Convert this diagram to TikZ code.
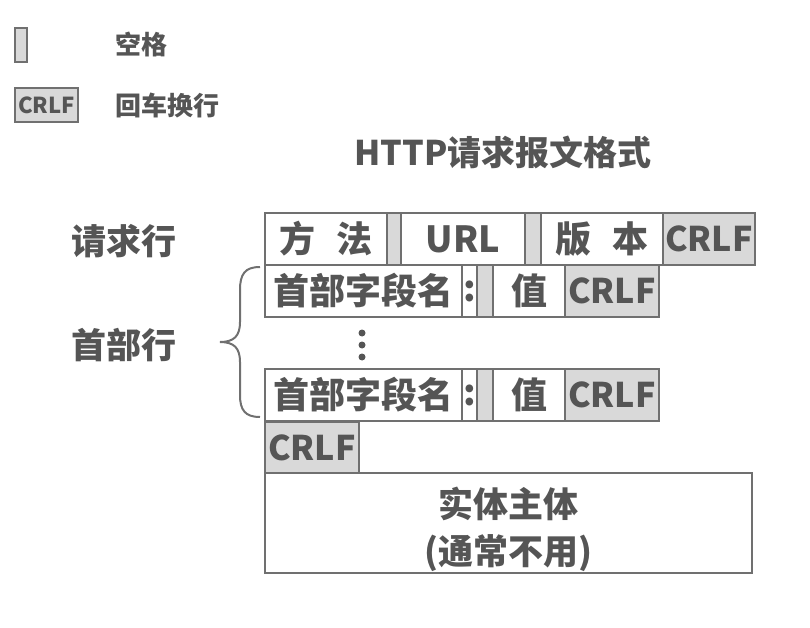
\documentclass[tikz,border=0pt]{standalone}
\usepackage{fontspec}
\setmainfont{Noto Sans CJK SC}
\definecolor{txtgray}{HTML}{555555}
\definecolor{linegray}{HTML}{707070}
\definecolor{spgray}{HTML}{D9D9D9}
\tikzset{
  cell/.style={draw=linegray, fill=white, anchor=north west, minimum height=52pt,
    inner sep=0pt, outer sep=0pt, text=txtgray, font=\fontsize{36}{40}\selectfont\bfseries},
  sp/.style={cell, fill=spgray, font=\fontsize{34}{40}\selectfont\bfseries},
  lbl/.style={text=txtgray, inner sep=0pt, font=\fontsize{35}{40}\selectfont\bfseries}
}
\begin{document}
\begin{tikzpicture}[x=1pt, y=-1pt, line width=1.6pt]
    \useasboundingbox (0,0) rectangle (810,628);
    % legend
    \node[sp, minimum width=12pt, minimum height=34pt] (legsp) at (15,28) {};
    \node[lbl, font=\fontsize{26}{30}\selectfont\bfseries] (legsptxt) at (141,44) {空格};
    \node[sp, minimum width=63pt, minimum height=34pt, font=\fontsize{22}{26}\selectfont\bfseries] (legcrlf) at (15,88) {CRLF};
    \node[lbl, font=\fontsize{26}{30}\selectfont\bfseries] (legcrlftxt) at (167,105) {回车换行};
    \node[lbl, font=\fontsize{34}{40}\selectfont\bfseries] (title) at (503,152) {HTTP请求报文格式};
    % request line
    \node[lbl] (qingqiu) at (124,241) {请求行};
    \node[cell, minimum width=122pt] (fangfa) at (265,213) {方\hspace{0.6em}法};
    \node[sp, minimum width=14pt] (sp1) at (387,213) {};
    \node[cell, minimum width=124pt] (url) at (401,213) {URL};
    \node[sp, minimum width=16pt] (sp2) at (525,213) {};
    \node[cell, minimum width=122pt] (banben) at (541,213) {版\hspace{0.6em}本};
    \node[sp, minimum width=92pt] (crlf1) at (663,213) {CRLF};
    % header lines
    \node[lbl] (shoubu) at (124,345) {首部行};
    \node[cell, minimum width=197pt] (name1) at (265,265) {首部字段名};
    \node[cell, minimum width=15pt] (colon1) at (462,265) {:};
    \node[sp, minimum width=16pt] (sp3) at (477,265) {};
    \node[cell, minimum width=72pt] (zhi1) at (493,265) {值};
    \node[sp, minimum width=94pt] (crlf2) at (565,265) {CRLF};
    \foreach \y in {333,345,357}
        \fill[txtgray] (362,\y) circle (3.5pt);
    \node[cell, minimum width=197pt] (name2) at (265,369) {首部字段名};
    \node[cell, minimum width=15pt] (colon2) at (462,369) {:};
    \node[sp, minimum width=16pt] (sp4) at (477,369) {};
    \node[cell, minimum width=72pt] (zhi2) at (493,369) {值};
    \node[sp, minimum width=94pt] (crlf3) at (565,369) {CRLF};
    \draw[linegray, line width=2pt] (260,267) .. controls (245,267) and (240,274) .. (240,290)
        -- (240,322) .. controls (240,336) and (234,342) .. (220,342)
        .. controls (234,342) and (240,348) .. (240,362)
        -- (240,395) .. controls (240,410) and (245,417) .. (260,417);
    % blank line and body
    \node[sp, minimum width=94pt, minimum height=51pt] (crlf4) at (265,422) {CRLF};
    \node[cell, minimum width=487pt, minimum height=100pt] (body) at (265,473) {};
    \node[lbl, align=center, font=\fontsize{35}{47}\selectfont\bfseries]
        (bodytxt) at ([yshift=-6pt]body.center) {实体主体\\(通常不用)};
\end{tikzpicture}
\end{document}
